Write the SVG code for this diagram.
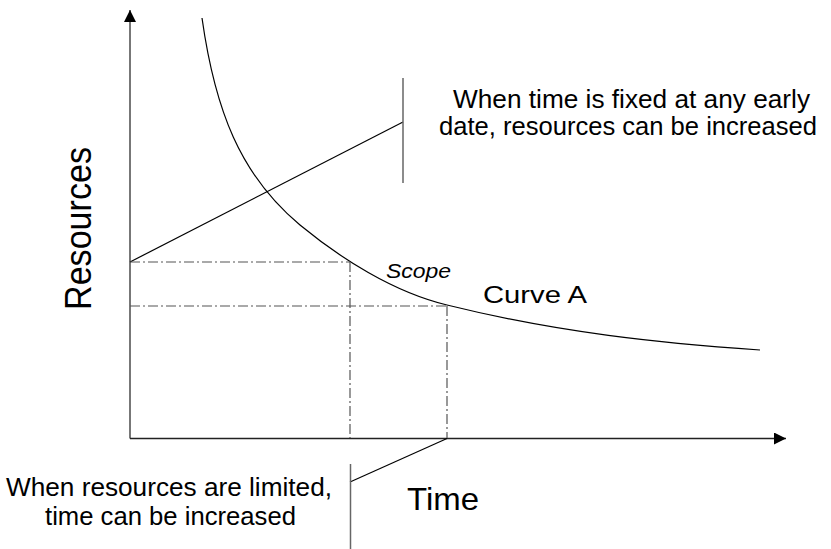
<svg xmlns="http://www.w3.org/2000/svg" width="831" height="549" viewBox="0 0 831 549">
<style>
text{font-family:"Liberation Sans",Arial,sans-serif;fill:#000}
.thin{fill:none;stroke:#000;stroke-width:1.2}
.gray{fill:none;stroke:#666;stroke-width:1.5}
.dd{fill:none;stroke:#555;stroke-width:1.2;stroke-dasharray:10,3,2,3}
</style>
<defs>
<marker id="arr" markerUnits="userSpaceOnUse" markerWidth="12" markerHeight="12" refX="12" refY="6" orient="auto">
<path d="M0,0 L12,6 L0,12 Z" fill="#000"/>
</marker>
</defs>
<g id="axes">
<line x1="130" y1="438.5" x2="130" y2="10" stroke="#777" stroke-width="2" marker-end="url(#arr)"/>
<line x1="130" y1="438.5" x2="786" y2="438.5" stroke="#222" stroke-width="1.6" marker-end="url(#arr)"/>
</g>
<g id="curveA">
<path class="thin" d="M202,18 C215,110 240,175 300,225 C340,258 393,292 447,305 C560,333 660,343 760,350"/>
</g>
<g id="connectors">
<line class="thin" x1="130" y1="262" x2="403" y2="122"/>
<line class="gray" x1="403" y1="78" x2="403" y2="183"/>
<line class="thin" x1="447" y1="438.5" x2="350" y2="482"/>
<line class="gray" x1="350.5" y1="464" x2="350.5" y2="549"/>
<line class="dd" x1="130" y1="262" x2="350" y2="262"/>
<line class="dd" x1="130" y1="306" x2="447" y2="306"/>
<line class="dd" x1="350" y1="262" x2="350" y2="438"/>
<line class="dd" x1="447" y1="306" x2="447" y2="438"/>
</g>
<g id="label-top">
<text x="631.5" y="108" font-size="25.5" text-anchor="middle" textLength="357" lengthAdjust="spacingAndGlyphs">When time is fixed at any early</text>
<text x="628" y="135" font-size="25.5" text-anchor="middle" textLength="378" lengthAdjust="spacingAndGlyphs">date, resources can be increased</text>
</g>
<g id="label-bottom">
<text x="169" y="496" font-size="25" text-anchor="middle" textLength="326" lengthAdjust="spacingAndGlyphs">When resources are limited,</text>
<text x="170.5" y="524.5" font-size="25" text-anchor="middle" textLength="251" lengthAdjust="spacingAndGlyphs">time can be increased</text>
</g>
<g id="label-time">
<text x="407" y="510" font-size="31.5" textLength="72" lengthAdjust="spacingAndGlyphs">Time</text>
</g>
<g id="label-resources">
<text transform="translate(91,228.5) rotate(-90)" font-size="36" text-anchor="middle" textLength="163" lengthAdjust="spacingAndGlyphs">Resources</text>
</g>
<g id="label-scope">
<text x="386" y="278" font-size="19.5" font-style="italic" textLength="65" lengthAdjust="spacingAndGlyphs">Scope</text>
</g>
<g id="label-curveA">
<text x="483" y="303" font-size="24.5" textLength="104" lengthAdjust="spacingAndGlyphs">Curve A</text>
</g>
</svg>
